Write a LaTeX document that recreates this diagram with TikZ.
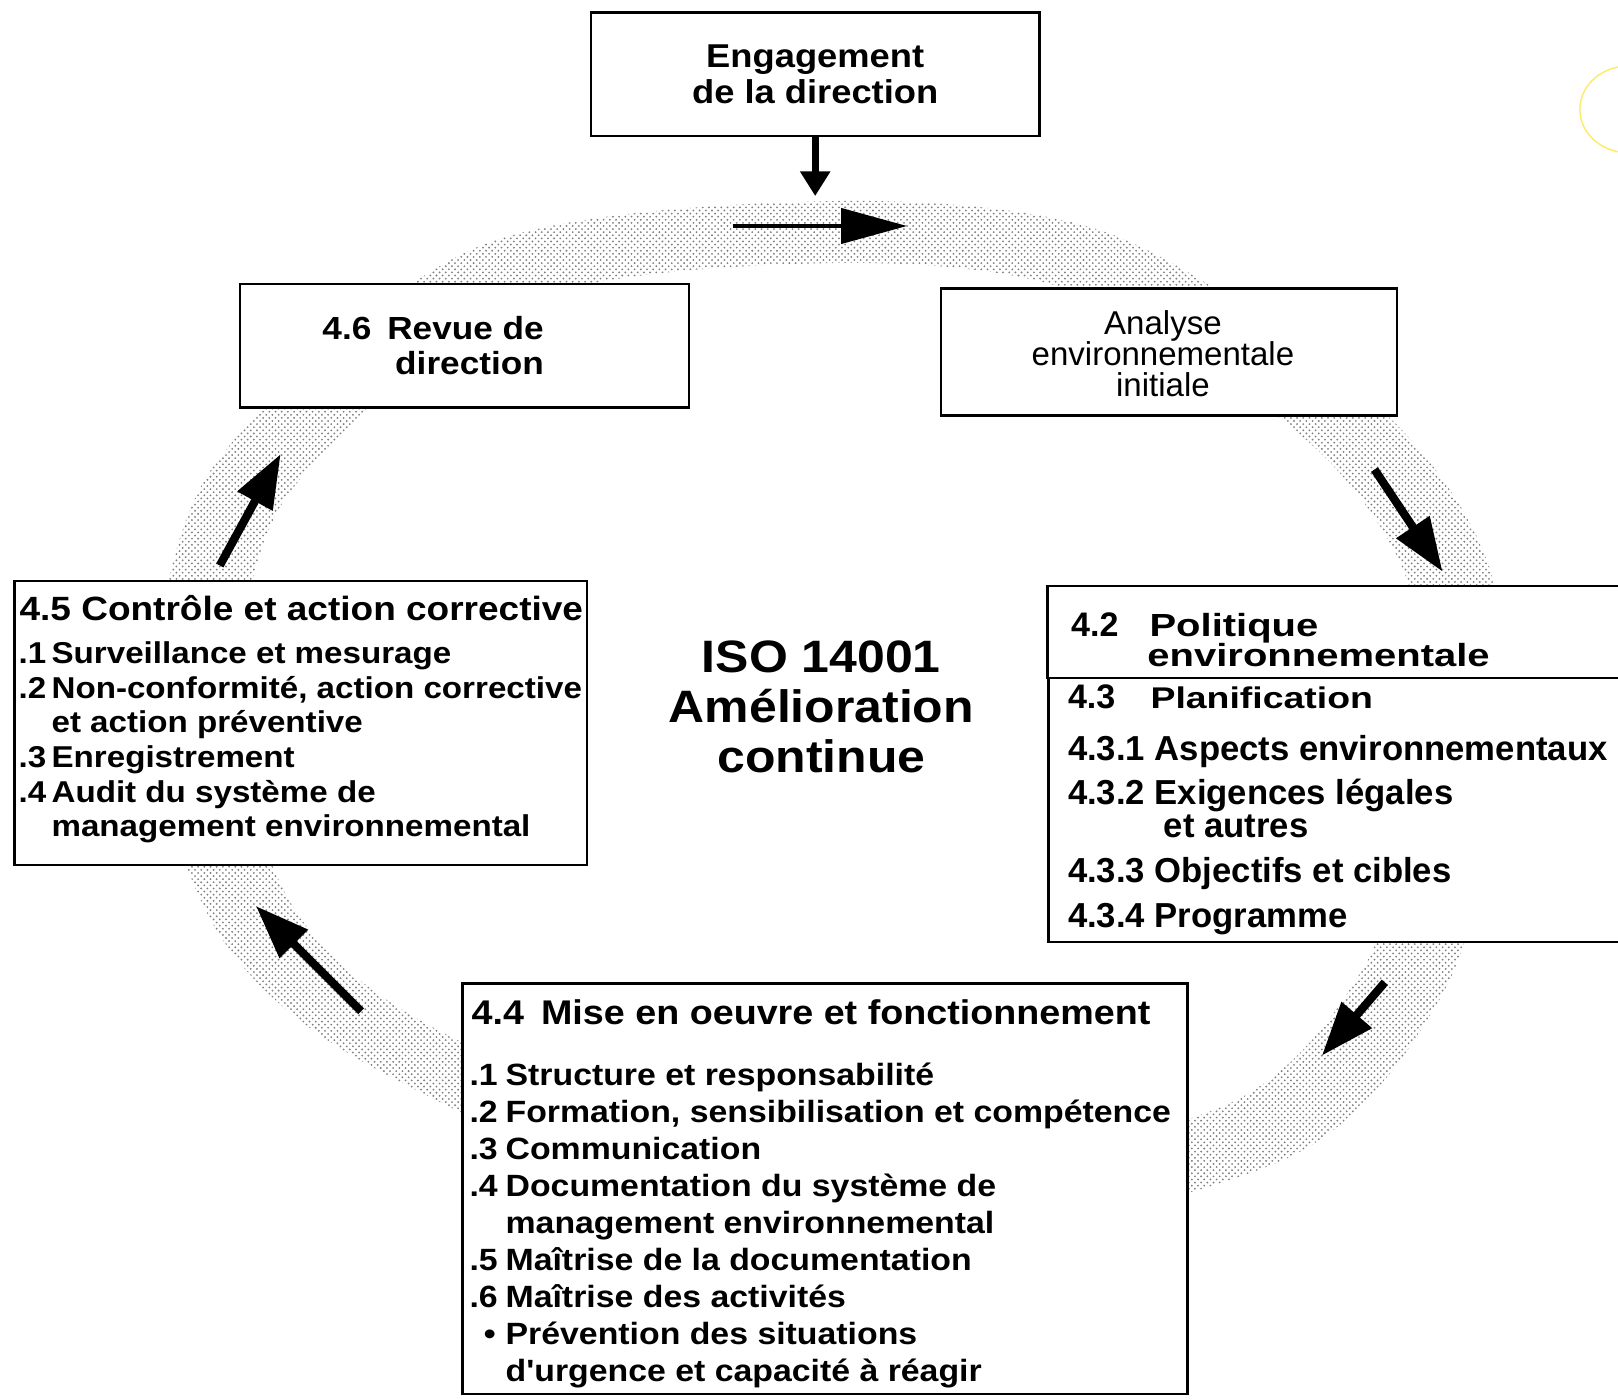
\documentclass[tikz,border=0pt]{standalone}
\usepackage{fontspec}
\setmainfont{Liberation Sans}
\newfontfamily\headfont[FakeStretch=1.1]{Liberation Sans}
\newfontfamily\widefont[FakeStretch=1.25]{Liberation Sans}
\usetikzlibrary{arrows.meta,patterns,positioning}

\begin{document}
\begin{tikzpicture}[x=0.5pt, y=-0.5pt, inner sep=0pt, outer sep=0pt,
    box/.style={draw, line width=1.2pt, fill=white},
    wide/.style={font=\widefont\bfseries\fontsize{15.5}{15.5}\selectfont, anchor=base west},
    plan/.style={font=\bfseries\fontsize{16.8}{16.8}\selectfont, anchor=base west},
    flow/.style={line width=4pt, -{Triangle[length=26pt,width=18.5pt]}}]
    \useasboundingbox (0,0) rectangle (1568,1356);
    \clip (0,0) rectangle (1568,1356);

    % dotted ring
    \fill[pattern=crosshatch dots, pattern color=black!50, even odd rule]
        plot[smooth cycle] coordinates {(800,195) (1077,227) (1333,392) (1444,552) (1450,765) (1396,967)
            (1237,1127) (800,1212) (374,1041) (214,908) (150,701) (204,456) (459,241)}
        plot[smooth cycle] coordinates {(800,255) (1043,283) (1268,428) (1366,569) (1370,755) (1324,933)
            (1183,1073) (800,1148) (426,999) (286,882) (230,699) (276,484) (501,295)};
    \draw[yellow!80!orange, line width=.7pt, opacity=.6] (1578,106) ellipse [x radius=47, y radius=42];

    % boxes
    \node[box, minimum width=217.5pt, minimum height=60pt] (engagement) at (790,72) {};
    \node[box, minimum width=217.5pt, minimum height=60pt] (revue) at (450,335) {};
    \node[box, minimum width=221pt, minimum height=61.5pt] (analyse) at (1133,341) {};
    \node[box, anchor=north west, minimum width=300pt, minimum height=44.5pt] (politique) at (1015,568) {};
    \node[box, anchor=north west, minimum width=300pt, minimum height=128pt] (planif) at (1016,657) {};
    \node[box, anchor=north west, minimum width=277.5pt, minimum height=137.5pt] (controle) at (14,563) {};
    \node[box, anchor=north west, minimum width=351.5pt, minimum height=199pt] (mise) at (448,953) {};

    \node[font=\headfont\bfseries\fontsize{16}{17.5}\selectfont, align=center] (engagement-t) at (engagement) {Engagement\\de la direction};
    \node[font=\headfont\bfseries\fontsize{15.5}{17}\selectfont, align=right, anchor=east] (revue-t) at (527,335) {4.6\enspace Revue de\\direction};
    \node[font=\fontsize{16}{15}\selectfont, align=center] (analyse-t) at (1127,343) {Analyse\\environnementale\\initiale};

    \node[plan, font=\bfseries\fontsize{16.5}{16.5}\selectfont] (p42) at (1038,617) {4.2};
    \node[wide] (politique-t) at (1114,617) {Politique};
    \node[wide] (env-t) at (1112,646) {environnementale};
    \node[plan, font=\bfseries\fontsize{16.5}{16.5}\selectfont] (p43) at (1035,687) {4.3};
    \node[wide, font=\widefont\bfseries\fontsize{14.5}{14.5}\selectfont] (planif-t) at (1115,687) {Planification};
    \foreach \y/\t [count=\i] in {737/{4.3.1 Aspects environnementaux}, 780/{4.3.2 Exigences légales},
        855/{4.3.3 Objectifs et cibles}, 899/{4.3.4 Programme}}
        \node[plan] (plan\i) at (1035,\y) {\t};
    \node[plan] (autres) at (1128,812) {et autres};

    \node[font=\headfont\bfseries\fontsize{16.3}{16.3}\selectfont, anchor=base west] (controle-h) at (19,601)
        {4.5 Contrôle et action corrective};
    \node[font=\headfont\bfseries\fontsize{14.6}{16.8}\selectfont, anchor=base west] (controle-t) at (18,643)
        {\begin{tabular}[t]{@{}p{16pt}@{}l@{}}
        .1 & Surveillance et mesurage\\
        .2 & Non-conformité, action corrective\\
           & et action préventive\\
        .3 & Enregistrement\\
        .4 & Audit du système de\\
           & management environnemental
        \end{tabular}};

    \node[font=\headfont\bfseries\fontsize{16.6}{16.6}\selectfont, anchor=base west] (mise-h) at (457,993)
        {4.4\enspace Mise en oeuvre et fonctionnement};
    \node[font=\headfont\bfseries\fontsize{14.9}{17.9}\selectfont, anchor=base west] (mise-t) at (455,1052)
        {\begin{tabular}[t]{@{}p{17.5pt}@{}l@{}}
        .1 & Structure et responsabilité\\
        .2 & Formation, sensibilisation et compétence\\
        .3 & Communication\\
        .4 & Documentation du système de\\
           & management environnemental\\
        .5 & Maîtrise de la documentation\\
        .6 & Maîtrise des activités\\
        \hspace*{7pt}\textbullet & Prévention des situations\\
           & d'urgence et capacité à réagir
        \end{tabular}};

    \node[font=\headfont\bfseries\fontsize{22}{24.3}\selectfont, align=center] (iso) at (796,685)
        {ISO 14001\\Amélioration\\continue};

    % arrows
    \coordinate (top-in) at (790,190);
    \coordinate (cycle-a) at (710,219);
    \coordinate (cycle-b) at (879,219);
    \coordinate (r1) at (1332,455);  \coordinate (r2) at (1398,554);
    \coordinate (r3) at (1342,952);  \coordinate (r4) at (1281,1023);
    \coordinate (r5) at (350,980);   \coordinate (r6) at (248,878);
    \coordinate (r7) at (213,548);   \coordinate (r8) at (272,440);
    \draw[line width=3.5pt, -{Triangle[length=12pt,width=14pt]}] (engagement) -- (top-in);
    \draw[line width=2pt, -{Triangle[length=32pt,width=17pt]}] (cycle-a) -- (cycle-b);
    \foreach \a/\b in {r1/r2, r3/r4, r5/r6, r7/r8}
        \draw[flow] (\a) -- (\b);
\end{tikzpicture}
\end{document}
